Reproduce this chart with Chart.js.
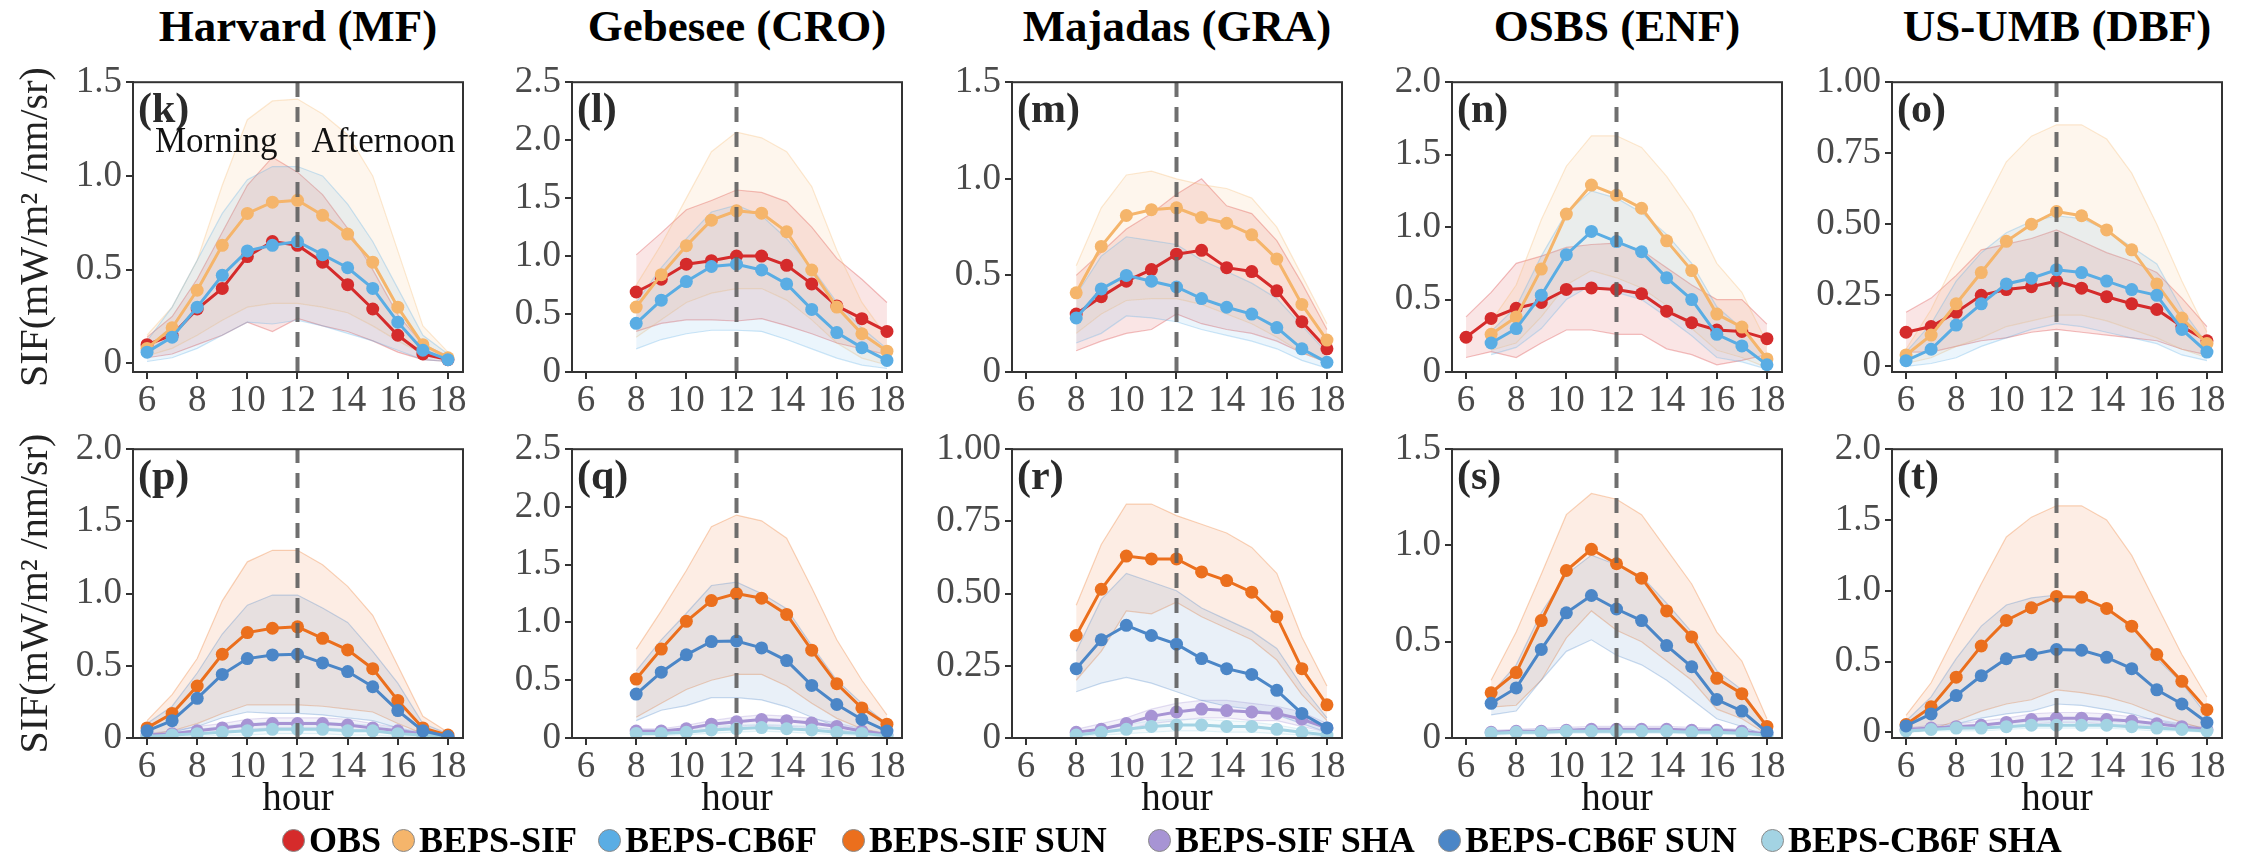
<!DOCTYPE html>
<html lang="en">
<head>
<meta charset="UTF-8">
<title>Diurnal SIF by site</title>
<script src="https://cdn.jsdelivr.net/npm/chart.js"></script>
<style>
  body { margin: 0; background: #fff; }
  #page { position: relative; width: 2246px; height: 868px; overflow: hidden;
          font-family: "Liberation Serif", "Times New Roman", serif; }
  .panel { position: absolute; }
  .title { position: absolute; top: 0px; width: 440px; text-align: center;
           font-weight: bold; font-size: 45px; color: #000; }
  .leg { position: absolute; top: 818px; height: 44px; display: flex; align-items: center;
         font-weight: bold; font-size: 36px; color: #000; white-space: nowrap; }
  .dot { display: inline-block; width: 23px; height: 23px; border-radius: 50%;
         border: 1px solid #8a8a8a; box-sizing: border-box; margin-right: 4px; }
</style>
</head>
<body>
<div id="page"></div>
<script>
// ---- data ----
const xTicks = [6, 8, 10, 12, 14, 16, 18];
const yTicks15 = [0, 0.5, 1.0, 1.5];
const yLabels15 = ['0', '0.5', '1.0', '1.5'];
const yTicks20 = [0, 0.5, 1.0, 1.5, 2.0];
const yLabels20 = ['0', '0.5', '1.0', '1.5', '2.0'];
const yTicks25 = [0, 0.5, 1.0, 1.5, 2.0, 2.5];
const yLabels25 = ['0', '0.5', '1.0', '1.5', '2.0', '2.5'];
const yTicks100 = [0, 0.25, 0.5, 0.75, 1.0];
const yLabels100 = ['0', '0.25', '0.50', '0.75', '1.00'];

const hours6 = [6, 7, 8, 9, 10, 11, 12, 13, 14, 15, 16, 17, 18];
const hours7 = [7, 8, 9, 10, 11, 12, 13, 14, 15, 16, 17, 18];
const hours8 = [8, 9, 10, 11, 12, 13, 14, 15, 16, 17, 18];

// (k) Harvard
const k_obs     = [0.10, 0.15, 0.29, 0.40, 0.57, 0.65, 0.63, 0.54, 0.42, 0.29, 0.15, 0.05, 0.02];
const k_obs_hi  = [0.14, 0.25, 0.45, 0.70, 0.95, 1.10, 1.02, 0.90, 0.72, 0.50, 0.26, 0.10, 0.04];
const k_obs_lo  = [0.03, 0.05, 0.10, 0.15, 0.22, 0.17, 0.24, 0.20, 0.17, 0.12, 0.06, 0.02, 0.01];
const k_sif     = [0.08, 0.19, 0.39, 0.63, 0.80, 0.86, 0.87, 0.79, 0.69, 0.54, 0.30, 0.10, 0.03];
const k_sif_hi  = [0.15, 0.30, 0.55, 0.95, 1.30, 1.40, 1.41, 1.33, 1.22, 1.00, 0.60, 0.20, 0.06];
const k_sif_lo  = [0.04, 0.08, 0.15, 0.23, 0.30, 0.32, 0.32, 0.30, 0.27, 0.20, 0.12, 0.05, 0.02];
const k_cb6f    = [0.06, 0.14, 0.30, 0.47, 0.60, 0.63, 0.65, 0.58, 0.51, 0.40, 0.22, 0.07, 0.02];
const k_cb6f_hi = [0.12, 0.30, 0.55, 0.80, 0.98, 1.05, 1.05, 1.00, 0.85, 0.65, 0.40, 0.15, 0.05];
const k_cb6f_lo = [0.01, 0.03, 0.08, 0.15, 0.22, 0.21, 0.23, 0.20, 0.16, 0.12, 0.07, 0.02, 0.01];

// (l) Gebesee
const l_obs     = [0.69, 0.80, 0.93, 0.96, 1.00, 1.00, 0.92, 0.76, 0.57, 0.46, 0.35];
const l_obs_hi  = [1.01, 1.20, 1.40, 1.48, 1.57, 1.55, 1.47, 1.25, 0.98, 0.80, 0.60];
const l_obs_lo  = [0.35, 0.42, 0.45, 0.45, 0.44, 0.46, 0.40, 0.33, 0.25, 0.20, 0.15];
const l_sif     = [0.56, 0.84, 1.09, 1.31, 1.39, 1.37, 1.21, 0.88, 0.56, 0.33, 0.18];
const l_sif_hi  = [0.75, 1.10, 1.50, 1.90, 2.07, 2.02, 1.90, 1.60, 1.05, 0.60, 0.30];
const l_sif_lo  = [0.30, 0.45, 0.60, 0.68, 0.72, 0.72, 0.62, 0.45, 0.25, 0.12, 0.06];
const l_cb6f    = [0.42, 0.62, 0.78, 0.91, 0.93, 0.88, 0.76, 0.54, 0.34, 0.21, 0.10];
const l_cb6f_hi = [0.60, 0.90, 1.15, 1.38, 1.44, 1.35, 1.15, 0.90, 0.60, 0.38, 0.20];
const l_cb6f_lo = [0.20, 0.28, 0.33, 0.36, 0.36, 0.35, 0.28, 0.20, 0.12, 0.06, 0.03];

// (m) Majadas
const m_obs     = [0.30, 0.39, 0.47, 0.53, 0.61, 0.63, 0.54, 0.52, 0.42, 0.26, 0.12];
const m_obs_hi  = [0.50, 0.62, 0.74, 0.82, 0.92, 1.00, 0.86, 0.82, 0.68, 0.46, 0.22];
const m_obs_lo  = [0.11, 0.16, 0.20, 0.22, 0.30, 0.25, 0.22, 0.20, 0.16, 0.10, 0.05];
const m_sif     = [0.41, 0.65, 0.81, 0.84, 0.85, 0.80, 0.77, 0.71, 0.585, 0.35, 0.165];
const m_sif_hi  = [0.55, 0.85, 1.02, 1.04, 1.00, 0.97, 0.95, 0.90, 0.75, 0.50, 0.25];
const m_sif_lo  = [0.20, 0.30, 0.37, 0.38, 0.38, 0.35, 0.30, 0.25, 0.18, 0.10, 0.05];
const m_cb6f    = [0.28, 0.43, 0.50, 0.47, 0.44, 0.38, 0.335, 0.30, 0.23, 0.12, 0.05];
const m_cb6f_hi = [0.40, 0.60, 0.70, 0.68, 0.66, 0.58, 0.52, 0.46, 0.38, 0.24, 0.10];
const m_cb6f_lo = [0.15, 0.20, 0.29, 0.28, 0.26, 0.22, 0.19, 0.16, 0.12, 0.06, 0.02];

// (n) OSBS  (OBS from 6 h, models from 7 h)
const n_obs     = [0.24, 0.37, 0.44, 0.48, 0.57, 0.58, 0.57, 0.54, 0.42, 0.34, 0.29, 0.28, 0.23];
const n_obs_hi  = [0.38, 0.55, 0.75, 0.80, 0.86, 0.88, 0.89, 0.84, 0.72, 0.60, 0.50, 0.50, 0.33];
const n_obs_lo  = [0.10, 0.14, 0.10, 0.20, 0.29, 0.29, 0.26, 0.26, 0.16, 0.12, 0.05, 0.08, 0.12];
const n_sif     = [0.26, 0.38, 0.71, 1.09, 1.29, 1.22, 1.13, 0.905, 0.70, 0.40, 0.31, 0.09];
const n_sif_hi  = [0.35, 0.60, 1.05, 1.42, 1.63, 1.63, 1.55, 1.35, 1.10, 0.75, 0.55, 0.20];
const n_sif_lo  = [0.15, 0.20, 0.38, 0.60, 0.70, 0.65, 0.58, 0.46, 0.30, 0.15, 0.10, 0.03];
const n_cb6f    = [0.20, 0.30, 0.53, 0.81, 0.97, 0.90, 0.83, 0.65, 0.50, 0.26, 0.18, 0.05];
const n_cb6f_hi = [0.28, 0.45, 0.80, 1.10, 1.25, 1.20, 1.10, 0.95, 0.75, 0.45, 0.30, 0.10];
const n_cb6f_lo = [0.12, 0.17, 0.30, 0.50, 0.60, 0.55, 0.50, 0.38, 0.25, 0.10, 0.07, 0.02];

// (o) US-UMB
const o_obs     = [0.12, 0.14, 0.19, 0.25, 0.27, 0.28, 0.30, 0.275, 0.245, 0.22, 0.20, 0.14, 0.09];
const o_obs_hi  = [0.19, 0.24, 0.32, 0.41, 0.43, 0.45, 0.48, 0.44, 0.40, 0.37, 0.33, 0.24, 0.14];
const o_obs_lo  = [0.05, 0.05, 0.07, 0.09, 0.10, 0.12, 0.13, 0.12, 0.11, 0.10, 0.09, 0.06, 0.04];
const o_sif     = [0.04, 0.11, 0.22, 0.33, 0.44, 0.50, 0.545, 0.53, 0.48, 0.41, 0.29, 0.17, 0.08];
const o_sif_hi  = [0.06, 0.20, 0.38, 0.55, 0.72, 0.81, 0.85, 0.85, 0.80, 0.68, 0.50, 0.30, 0.12];
const o_sif_lo  = [0.01, 0.03, 0.07, 0.10, 0.14, 0.16, 0.18, 0.18, 0.16, 0.13, 0.10, 0.06, 0.03];
const o_cb6f    = [0.02, 0.06, 0.145, 0.22, 0.29, 0.31, 0.34, 0.33, 0.30, 0.27, 0.25, 0.13, 0.05];
const o_cb6f_hi = [0.05, 0.15, 0.30, 0.40, 0.47, 0.51, 0.53, 0.52, 0.48, 0.42, 0.36, 0.20, 0.08];
const o_cb6f_lo = [0.00, 0.01, 0.03, 0.07, 0.10, 0.13, 0.15, 0.14, 0.12, 0.10, 0.08, 0.04, 0.02];

// (p) Harvard, sunlit / shaded
const p_sifsun     = [0.07, 0.17, 0.36, 0.58, 0.73, 0.76, 0.77, 0.69, 0.61, 0.48, 0.26, 0.07, 0.02];
const p_sifsun_hi  = [0.12, 0.30, 0.55, 0.95, 1.22, 1.30, 1.30, 1.20, 1.05, 0.85, 0.50, 0.15, 0.04];
const p_sifsun_lo  = [0.02, 0.05, 0.10, 0.17, 0.23, 0.23, 0.23, 0.22, 0.20, 0.18, 0.10, 0.03, 0.01];
const p_sifsha     = [0.02, 0.03, 0.05, 0.07, 0.09, 0.10, 0.10, 0.10, 0.09, 0.07, 0.05, 0.03, 0.01];
const p_sifsha_hi  = [0.03, 0.05, 0.08, 0.10, 0.13, 0.14, 0.14, 0.14, 0.13, 0.10, 0.07, 0.04, 0.02];
const p_sifsha_lo  = [0.01, 0.02, 0.03, 0.04, 0.06, 0.07, 0.07, 0.07, 0.06, 0.05, 0.03, 0.02, 0.01];
const p_cb6fsun    = [0.05, 0.12, 0.275, 0.44, 0.55, 0.575, 0.58, 0.52, 0.46, 0.355, 0.19, 0.05, 0.01];
const p_cb6fsun_hi = [0.10, 0.22, 0.45, 0.72, 0.92, 0.99, 0.99, 0.90, 0.80, 0.60, 0.38, 0.10, 0.03];
const p_cb6fsun_lo = [0.01, 0.04, 0.08, 0.14, 0.18, 0.17, 0.17, 0.16, 0.14, 0.12, 0.07, 0.02, 0.005];
const p_cb6fsha    = [0.01, 0.02, 0.03, 0.04, 0.05, 0.06, 0.06, 0.06, 0.05, 0.05, 0.03, 0.02, 0.01];
const p_cb6fsha_hi = [0.02, 0.04, 0.06, 0.08, 0.10, 0.11, 0.11, 0.11, 0.10, 0.09, 0.06, 0.03, 0.02];
const p_cb6fsha_lo = [0.00, 0.01, 0.01, 0.02, 0.02, 0.03, 0.03, 0.03, 0.02, 0.02, 0.01, 0.01, 0.00];

// (q) Gebesee, sunlit / shaded
const q_sifsun     = [0.51, 0.77, 1.01, 1.19, 1.25, 1.21, 1.07, 0.76, 0.47, 0.26, 0.12];
const q_sifsun_hi  = [0.77, 1.10, 1.45, 1.83, 1.93, 1.88, 1.73, 1.30, 0.85, 0.50, 0.20];
const q_sifsun_lo  = [0.18, 0.30, 0.42, 0.50, 0.55, 0.55, 0.45, 0.30, 0.17, 0.08, 0.03];
const q_sifsha     = [0.06, 0.06, 0.08, 0.12, 0.14, 0.16, 0.15, 0.13, 0.10, 0.06, 0.03];
const q_sifsha_hi  = [0.08, 0.08, 0.11, 0.15, 0.18, 0.20, 0.19, 0.17, 0.13, 0.08, 0.04];
const q_sifsha_lo  = [0.04, 0.04, 0.05, 0.08, 0.10, 0.11, 0.10, 0.09, 0.07, 0.04, 0.02];
const q_cb6fsun    = [0.38, 0.57, 0.72, 0.835, 0.84, 0.78, 0.67, 0.455, 0.29, 0.16, 0.06];
const q_cb6fsun_hi = [0.58, 0.85, 1.08, 1.32, 1.35, 1.25, 1.12, 0.80, 0.50, 0.30, 0.12];
const q_cb6fsun_lo = [0.15, 0.24, 0.28, 0.35, 0.35, 0.33, 0.27, 0.18, 0.10, 0.05, 0.02];
const q_cb6fsha    = [0.04, 0.04, 0.05, 0.07, 0.08, 0.09, 0.08, 0.07, 0.05, 0.04, 0.02];
const q_cb6fsha_hi = [0.06, 0.06, 0.07, 0.10, 0.11, 0.12, 0.11, 0.10, 0.07, 0.05, 0.03];
const q_cb6fsha_lo = [0.02, 0.02, 0.03, 0.04, 0.05, 0.06, 0.05, 0.04, 0.03, 0.02, 0.01];

// (r) Majadas, sunlit / shaded
const r_sifsun     = [0.355, 0.515, 0.63, 0.62, 0.62, 0.575, 0.545, 0.505, 0.42, 0.24, 0.115];
const r_sifsun_hi  = [0.46, 0.67, 0.81, 0.81, 0.77, 0.74, 0.71, 0.66, 0.57, 0.35, 0.18];
const r_sifsun_lo  = [0.20, 0.30, 0.44, 0.43, 0.47, 0.42, 0.38, 0.34, 0.27, 0.15, 0.06];
const r_sifsha     = [0.02, 0.03, 0.05, 0.075, 0.09, 0.10, 0.095, 0.09, 0.085, 0.065, 0.035];
const r_sifsha_hi  = [0.03, 0.05, 0.07, 0.10, 0.12, 0.13, 0.13, 0.12, 0.11, 0.09, 0.05];
const r_sifsha_lo  = [0.01, 0.02, 0.03, 0.05, 0.06, 0.07, 0.07, 0.06, 0.06, 0.04, 0.02];
const r_cb6fsun    = [0.24, 0.34, 0.39, 0.355, 0.325, 0.275, 0.24, 0.22, 0.165, 0.085, 0.035];
const r_cb6fsun_hi = [0.30, 0.48, 0.57, 0.54, 0.51, 0.45, 0.41, 0.37, 0.31, 0.18, 0.07];
const r_cb6fsun_lo = [0.16, 0.19, 0.21, 0.19, 0.16, 0.13, 0.11, 0.10, 0.08, 0.05, 0.02];
const r_cb6fsha    = [0.01, 0.02, 0.03, 0.04, 0.045, 0.045, 0.04, 0.04, 0.03, 0.02, 0.01];
const r_cb6fsha_hi = [0.02, 0.03, 0.045, 0.06, 0.065, 0.065, 0.06, 0.055, 0.045, 0.03, 0.02];
const r_cb6fsha_lo = [0.005, 0.01, 0.015, 0.02, 0.025, 0.025, 0.02, 0.02, 0.015, 0.01, 0.005];

// (s) OSBS, sunlit / shaded
const s_sifsun     = [0.235, 0.34, 0.61, 0.87, 0.98, 0.905, 0.83, 0.66, 0.525, 0.31, 0.23, 0.06];
const s_sifsun_hi  = [0.30, 0.55, 0.85, 1.16, 1.27, 1.24, 1.16, 0.98, 0.80, 0.55, 0.40, 0.10];
const s_sifsun_lo  = [0.16, 0.17, 0.30, 0.52, 0.66, 0.56, 0.50, 0.40, 0.30, 0.15, 0.10, 0.02];
const s_sifsha     = [0.03, 0.035, 0.035, 0.04, 0.045, 0.045, 0.045, 0.045, 0.04, 0.04, 0.035, 0.02];
const s_sifsha_hi  = [0.04, 0.045, 0.05, 0.055, 0.06, 0.06, 0.06, 0.06, 0.055, 0.05, 0.045, 0.03];
const s_sifsha_lo  = [0.02, 0.025, 0.025, 0.03, 0.03, 0.03, 0.03, 0.03, 0.03, 0.03, 0.025, 0.01];
const s_cb6fsun    = [0.18, 0.26, 0.46, 0.65, 0.74, 0.67, 0.61, 0.48, 0.37, 0.20, 0.14, 0.03];
const s_cb6fsun_hi = [0.23, 0.38, 0.65, 0.85, 0.95, 0.90, 0.84, 0.70, 0.55, 0.35, 0.25, 0.05];
const s_cb6fsun_lo = [0.12, 0.14, 0.30, 0.45, 0.51, 0.43, 0.38, 0.30, 0.20, 0.10, 0.06, 0.01];
const s_cb6fsha    = [0.025, 0.03, 0.03, 0.035, 0.035, 0.035, 0.035, 0.035, 0.03, 0.03, 0.025, 0.015];
const s_cb6fsha_hi = [0.035, 0.04, 0.04, 0.045, 0.045, 0.045, 0.045, 0.045, 0.04, 0.04, 0.035, 0.02];
const s_cb6fsha_lo = [0.015, 0.02, 0.02, 0.025, 0.025, 0.025, 0.025, 0.025, 0.02, 0.02, 0.015, 0.01];

// (t) US-UMB, sunlit / shaded
const t_sifsun     = [0.055, 0.18, 0.39, 0.61, 0.79, 0.88, 0.96, 0.955, 0.875, 0.75, 0.55, 0.36, 0.16];
const t_sifsun_hi  = [0.12, 0.35, 0.70, 1.05, 1.38, 1.52, 1.60, 1.60, 1.50, 1.25, 0.90, 0.55, 0.25];
const t_sifsun_lo  = [0.00, 0.02, 0.08, 0.15, 0.20, 0.23, 0.30, 0.28, 0.25, 0.20, 0.13, 0.07, 0.02];
const t_sifsha     = [0.02, 0.03, 0.04, 0.05, 0.07, 0.09, 0.10, 0.10, 0.09, 0.08, 0.06, 0.04, 0.02];
const t_sifsha_hi  = [0.03, 0.05, 0.06, 0.08, 0.10, 0.13, 0.14, 0.14, 0.13, 0.11, 0.09, 0.06, 0.03];
const t_sifsha_lo  = [0.01, 0.02, 0.02, 0.03, 0.04, 0.06, 0.07, 0.07, 0.06, 0.05, 0.04, 0.02, 0.01];
const t_cb6fsun    = [0.045, 0.13, 0.26, 0.40, 0.52, 0.55, 0.585, 0.58, 0.53, 0.45, 0.30, 0.20, 0.07];
const t_cb6fsun_hi = [0.08, 0.25, 0.52, 0.75, 0.90, 0.95, 0.97, 0.95, 0.88, 0.75, 0.52, 0.35, 0.12];
const t_cb6fsun_lo = [0.00, 0.02, 0.06, 0.10, 0.13, 0.15, 0.20, 0.19, 0.16, 0.13, 0.08, 0.05, 0.01];
const t_cb6fsha    = [0.01, 0.02, 0.03, 0.03, 0.04, 0.05, 0.05, 0.05, 0.05, 0.04, 0.03, 0.02, 0.01];
const t_cb6fsha_hi = [0.02, 0.03, 0.05, 0.05, 0.06, 0.08, 0.08, 0.08, 0.08, 0.06, 0.05, 0.03, 0.02];
const t_cb6fsha_lo = [0.00, 0.01, 0.01, 0.01, 0.02, 0.03, 0.03, 0.03, 0.03, 0.02, 0.01, 0.01, 0.00];

// ---- colours ----
const C = {
  obs: '#d52b2b', sif: '#f5b56b', cb6f: '#5aade4',
  sifSun: '#eb6f1d', sifSha: '#a794d4', cb6fSun: '#4b86c7', cb6fSha: '#a3d3e3'
};
function rgba(hex, a) {
  const n = parseInt(hex.slice(1), 16);
  return `rgba(${n >> 16},${(n >> 8) & 255},${n & 255},${a})`;
}

const top3 = (h1, obs, sif, cb6f, hObs) => [
  { hours: hObs || h1, mean: obs[0], hi: obs[1], lo: obs[2], color: C.obs, order: 3 },
  { hours: h1, mean: sif[0], hi: sif[1], lo: sif[2], color: C.sif, order: 2 },
  { hours: h1, mean: cb6f[0], hi: cb6f[1], lo: cb6f[2], color: C.cb6f, order: 1 }
];
const bottom4 = (h, sifsun, sifsha, cb6fsun, cb6fsha) => [
  { hours: h, mean: sifsun[0], hi: sifsun[1], lo: sifsun[2], color: C.sifSun, order: 2 },
  { hours: h, mean: cb6fsun[0], hi: cb6fsun[1], lo: cb6fsun[2], color: C.cb6fSun, order: 1 },
  { hours: h, mean: sifsha[0], hi: sifsha[1], lo: sifsha[2], color: C.sifSha, order: 4 },
  { hours: h, mean: cb6fsha[0], hi: cb6fsha[1], lo: cb6fsha[2], color: C.cb6fSha, order: 3 }
];

const panels = [
  { title: 'Harvard (MF)', letter: '(k)', row: 0, col: 0, ymin: -0.046, ymax: 1.5, yt: yTicks15, yl: yLabels15, notes: true,
    series: top3(hours6, [k_obs, k_obs_hi, k_obs_lo], [k_sif, k_sif_hi, k_sif_lo], [k_cb6f, k_cb6f_hi, k_cb6f_lo]) },
  { title: 'Gebesee (CRO)', letter: '(l)', row: 0, col: 1, ymin: 0, ymax: 2.5, yt: yTicks25, yl: yLabels25,
    series: top3(hours8, [l_obs, l_obs_hi, l_obs_lo], [l_sif, l_sif_hi, l_sif_lo], [l_cb6f, l_cb6f_hi, l_cb6f_lo]) },
  { title: 'Majadas (GRA)', letter: '(m)', row: 0, col: 2, ymin: 0, ymax: 1.5, yt: yTicks15, yl: yLabels15,
    series: top3(hours8, [m_obs, m_obs_hi, m_obs_lo], [m_sif, m_sif_hi, m_sif_lo], [m_cb6f, m_cb6f_hi, m_cb6f_lo]) },
  { title: 'OSBS (ENF)', letter: '(n)', row: 0, col: 3, ymin: 0, ymax: 2.0, yt: yTicks20, yl: yLabels20,
    series: top3(hours7, [n_obs, n_obs_hi, n_obs_lo], [n_sif, n_sif_hi, n_sif_lo], [n_cb6f, n_cb6f_hi, n_cb6f_lo], hours6) },
  { title: 'US-UMB (DBF)', letter: '(o)', row: 0, col: 4, ymin: -0.02, ymax: 1.0, yt: yTicks100, yl: yLabels100,
    series: top3(hours6, [o_obs, o_obs_hi, o_obs_lo], [o_sif, o_sif_hi, o_sif_lo], [o_cb6f, o_cb6f_hi, o_cb6f_lo]) },
  { letter: '(p)', row: 1, col: 0, ymin: 0, ymax: 2.0, yt: yTicks20, yl: yLabels20,
    series: bottom4(hours6, [p_sifsun, p_sifsun_hi, p_sifsun_lo], [p_sifsha, p_sifsha_hi, p_sifsha_lo], [p_cb6fsun, p_cb6fsun_hi, p_cb6fsun_lo], [p_cb6fsha, p_cb6fsha_hi, p_cb6fsha_lo]) },
  { letter: '(q)', row: 1, col: 1, ymin: 0, ymax: 2.5, yt: yTicks25, yl: yLabels25,
    series: bottom4(hours8, [q_sifsun, q_sifsun_hi, q_sifsun_lo], [q_sifsha, q_sifsha_hi, q_sifsha_lo], [q_cb6fsun, q_cb6fsun_hi, q_cb6fsun_lo], [q_cb6fsha, q_cb6fsha_hi, q_cb6fsha_lo]) },
  { letter: '(r)', row: 1, col: 2, ymin: 0, ymax: 1.0, yt: yTicks100, yl: yLabels100,
    series: bottom4(hours8, [r_sifsun, r_sifsun_hi, r_sifsun_lo], [r_sifsha, r_sifsha_hi, r_sifsha_lo], [r_cb6fsun, r_cb6fsun_hi, r_cb6fsun_lo], [r_cb6fsha, r_cb6fsha_hi, r_cb6fsha_lo]) },
  { letter: '(s)', row: 1, col: 3, ymin: 0, ymax: 1.5, yt: yTicks15, yl: yLabels15,
    series: bottom4(hours7, [s_sifsun, s_sifsun_hi, s_sifsun_lo], [s_sifsha, s_sifsha_hi, s_sifsha_lo], [s_cb6fsun, s_cb6fsun_hi, s_cb6fsun_lo], [s_cb6fsha, s_cb6fsha_hi, s_cb6fsha_lo]) },
  { letter: '(t)', row: 1, col: 4, ymin: -0.04, ymax: 2.0, yt: yTicks20, yl: yLabels20,
    series: bottom4(hours6, [t_sifsun, t_sifsun_hi, t_sifsun_lo], [t_sifsha, t_sifsha_hi, t_sifsha_lo], [t_cb6fsun, t_cb6fsun_hi, t_cb6fsun_lo], [t_cb6fsha, t_cb6fsha_hi, t_cb6fsha_lo]) }
];

const legendItems = [
  { label: 'OBS', color: C.obs, x: 282 },
  { label: 'BEPS-SIF', color: C.sif, x: 392 },
  { label: 'BEPS-CB6F', color: C.cb6f, x: 598 },
  { label: 'BEPS-SIF SUN', color: C.sifSun, x: 842 },
  { label: 'BEPS-SIF SHA', color: C.sifSha, x: 1148 },
  { label: 'BEPS-CB6F SUN', color: C.cb6fSun, x: 1438 },
  { label: 'BEPS-CB6F SHA', color: C.cb6fSha, x: 1761 }
];

// ---- layout ----
const colLeft = [133, 572, 1012, 1452, 1892];
const PLOT_W = 330;
const rowGeom = [
  { plotTop: 68, plotH: 304, xAxisH: 40 },
  { plotTop: 435, plotH: 303, xAxisH: 85 }
];
const PAD_T = 12, PAD_R = 8;
const FONT = '"Liberation Serif", "Times New Roman", serif';
const page = document.getElementById('page');

// frame box, panel letter and the Morning / Afternoon notes
const panelDecor = {
  id: 'panelDecor',
  afterDraw(chart, args, opts) {
    const { ctx, chartArea: a } = chart;
    ctx.save();
    ctx.strokeStyle = '#333';
    ctx.lineWidth = 2;
    ctx.strokeRect(a.left, a.top, a.right - a.left, a.bottom - a.top);
    ctx.fillStyle = '#2a2a2a';
    ctx.textBaseline = 'middle';
    ctx.font = `bold 42px ${FONT}`;
    ctx.fillText(opts.letter, a.left + 5, a.top + 29);
    if (opts.notes) {
      const x12 = chart.scales.x.getPixelForValue(12);
      ctx.font = `35px ${FONT}`;
      ctx.fillStyle = '#111';
      ctx.textBaseline = 'alphabetic';
      ctx.fillText('Morning', a.left + 22, a.top + 70);
      ctx.fillText('Afternoon', x12 + 14, a.top + 70);
    }
    ctx.restore();
  }
};

panels.forEach(p => {
  const g = rowGeom[p.row];
  const yAxisW = p.col === 0 ? 133 : 100;
  const W = yAxisW + PLOT_W + PAD_R;
  const H = PAD_T + g.plotH + g.xAxisH;
  const left = colLeft[p.col] - yAxisW;
  const top = g.plotTop - PAD_T;

  const wrap = document.createElement('div');
  wrap.className = 'panel';
  wrap.style.left = left + 'px';
  wrap.style.top = top + 'px';
  const canvas = document.createElement('canvas');
  canvas.width = W;
  canvas.height = H;
  wrap.appendChild(canvas);
  page.appendChild(wrap);

  if (p.title) {
    const t = document.createElement('div');
    t.className = 'title';
    t.textContent = p.title;
    t.style.left = (colLeft[p.col] + PLOT_W / 2 - 220) + 'px';
    page.appendChild(t);
  }

  const datasets = [{
    data: [{ x: 12, y: p.ymin }, { x: 12, y: p.ymax }],
    borderColor: 'rgba(95,95,95,0.9)', borderWidth: 4, borderDash: [15, 10],
    pointRadius: 0, fill: false, order: 0
  }];
  p.series.forEach(s => {
    const pts = arr => s.hours.map((h, i) => ({ x: h, y: arr[i] }));
    datasets.push({
      data: pts(s.hi), borderColor: rgba(s.color, 0.3), borderWidth: 1.2,
      backgroundColor: rgba(s.color, 0.12), fill: '+1', pointRadius: 0, order: 10 + s.order
    });
    datasets.push({
      data: pts(s.lo), borderColor: rgba(s.color, 0.3), borderWidth: 1.2,
      fill: false, pointRadius: 0, order: 10 + s.order
    });
    datasets.push({
      data: pts(s.mean), borderColor: s.color, borderWidth: 3,
      pointRadius: 6.5, pointBackgroundColor: s.color, pointBorderWidth: 0,
      fill: false, order: s.order
    });
  });

  new Chart(canvas, {
    type: 'line',
    data: { datasets },
    options: {
      responsive: false,
      animation: false,
      events: [],
      layout: { padding: { top: PAD_T, right: PAD_R, left: 0, bottom: 0 } },
      plugins: {
        legend: { display: false },
        tooltip: { enabled: false },
        panelDecor: { letter: p.letter, notes: !!p.notes }
      },
      scales: {
        x: {
          type: 'linear', min: 5.44, max: 18.6,
          afterBuildTicks: sc => { sc.ticks = xTicks.map(v => ({ value: v })); },
          afterFit: sc => { sc.height = g.xAxisH; },
          grid: { drawOnChartArea: false, tickLength: 7, color: '#333', lineWidth: 2 },
          border: { color: '#333', width: 2 },
          ticks: { autoSkip: false, maxRotation: 0, padding: 0, color: '#4a4a4a',
                   font: { family: FONT, size: 37 } },
          title: { display: p.row === 1, text: 'hour', color: '#111',
                   font: { family: FONT, size: 39 }, padding: { top: 0, bottom: 0 } }
        },
        y: {
          min: p.ymin, max: p.ymax,
          afterBuildTicks: sc => { sc.ticks = p.yt.map(v => ({ value: v })); },
          afterFit: sc => { sc.width = yAxisW; },
          grid: { drawOnChartArea: false, tickLength: 7, color: '#333', lineWidth: 2 },
          border: { color: '#333', width: 2 },
          ticks: { autoSkip: false, padding: 4, color: '#4a4a4a',
                   font: { family: FONT, size: 37 },
                   callback: (v, i) => p.yl[i] },
          title: { display: p.col === 0, text: 'SIF(mW/m² /nm/sr)', color: '#222',
                   font: { family: FONT, size: 40 }, padding: { top: 12, bottom: 0 } }
        }
      }
    },
    plugins: [panelDecor]
  });
});

legendItems.forEach(it => {
  const d = document.createElement('div');
  d.className = 'leg';
  d.style.left = it.x + 'px';
  const dot = document.createElement('span');
  dot.className = 'dot';
  dot.style.background = it.color;
  d.appendChild(dot);
  d.appendChild(document.createTextNode(it.label));
  page.appendChild(d);
});
</script>
</body>
</html>
